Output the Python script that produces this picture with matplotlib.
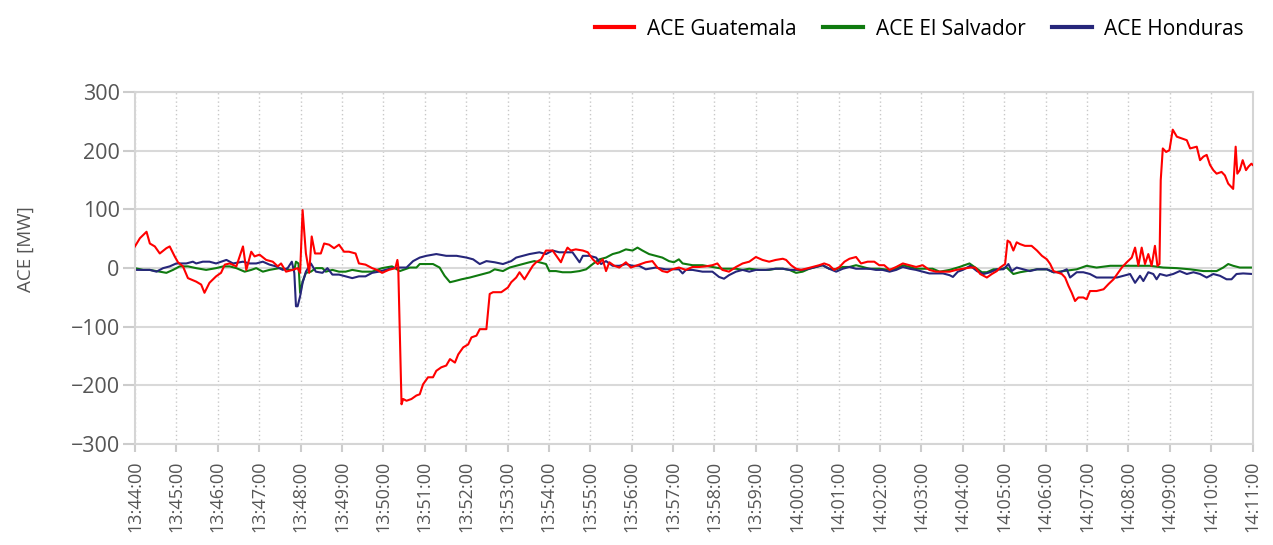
import matplotlib
matplotlib.use("Agg")
import matplotlib.pyplot as plt

# x values are minutes after 13:44:00
tick_labels = ["13:44:00", "13:45:00", "13:46:00", "13:47:00", "13:48:00", "13:49:00",
               "13:50:00", "13:51:00", "13:52:00", "13:53:00", "13:54:00", "13:55:00",
               "13:56:00", "13:57:00", "13:58:00", "13:59:00", "14:00:00", "14:01:00",
               "14:02:00", "14:03:00", "14:04:00", "14:05:00", "14:06:00", "14:07:00",
               "14:08:00", "14:09:00", "14:10:00", "14:11:00"]

gt_t = [0, 0.12, 0.28, 0.36, 0.48, 0.6, 0.76, 0.84, 0.96, 1.04, 1.16, 1.28, 1.48, 1.6, 1.68,
        1.8, 1.96, 2.08, 2.17, 2.29, 2.45, 2.61, 2.69, 2.81, 2.89, 3.01, 3.17, 3.33, 3.45,
        3.53, 3.65, 3.81, 3.93, 3.99, 4.05, 4.13, 4.21, 4.27, 4.35, 4.49, 4.57, 4.69, 4.81,
        4.93, 5.05, 5.17, 5.33, 5.41, 5.57, 5.73, 5.85, 5.97, 6.13, 6.29, 6.34, 6.36, 6.44,
        6.48, 6.56, 6.68, 6.80, 6.88, 6.96, 7.08, 7.20, 7.28, 7.40, 7.52, 7.61, 7.73, 7.81,
        7.93, 8.05, 8.13, 8.25, 8.33, 8.49, 8.57, 8.65, 8.85, 9.01, 9.09, 9.21, 9.29, 9.41,
        9.53, 9.61, 9.69, 9.81, 9.93, 10.09, 10.21, 10.29, 10.37, 10.45, 10.53, 10.65, 10.82,
        10.94, 11.06, 11.18, 11.30, 11.38, 11.46, 11.58, 11.70, 11.86, 11.98, 12.10, 12.22,
        12.34, 12.50, 12.62, 12.74, 12.86, 12.98, 13.14, 13.31, 13.47, 13.63, 13.79, 13.95,
        14.07, 14.19, 14.35, 14.52, 14.68, 14.84, 15.0, 15.16, 15.32, 15.48, 15.65, 15.73,
        15.85, 15.97, 16.09, 16.21, 16.37, 16.53, 16.65, 16.77, 16.89, 17.02, 17.14, 17.26,
        17.42, 17.54, 17.70, 17.86, 17.98, 18.10, 18.23, 18.39, 18.55, 18.71, 18.87, 19.03,
        19.19, 19.35, 19.52, 19.68, 19.84, 20.0, 20.18, 20.30, 20.42, 20.58, 20.70, 20.82,
        20.90, 21.02, 21.08, 21.14, 21.22, 21.30, 21.38, 21.50, 21.66, 21.79, 21.91, 22.03,
        22.11, 22.19, 22.27, 22.39, 22.47, 22.55, 22.63, 22.71, 22.79, 22.91, 22.99, 23.07,
        23.23, 23.40, 23.52, 23.64, 23.76, 23.84, 23.96, 24.08, 24.16, 24.24, 24.32, 24.40,
        24.48, 24.56, 24.64, 24.70, 24.75, 24.78, 24.83, 24.91, 24.99, 25.07, 25.17, 25.29,
        25.41, 25.49, 25.65, 25.73, 25.81, 25.89, 25.97, 26.05, 26.13, 26.25, 26.33, 26.41,
        26.49, 26.53, 26.59, 26.63, 26.69, 26.76, 26.84, 26.90, 26.97, 27.0]
gt_v = [37, 51, 62, 42, 37, 25, 34, 37, 20, 10, 3, -17, -23, -28, -42,
        -25, -14, -8, 6, 8, 3, 37, -3, 28, 20, 23, 14, 11, 3,
        8, -6, -3, 0, -8, 99, 25, -8, 54, 25, 25, 42, 40, 34,
        40, 28, 28, 25, 8, 6, 0, -3, -8, -3, 0, 14, 3, -232,
        -223, -226, -223, -217, -215, -198, -186, -186, -175, -169, -166, -155, -161, -147,
        -135, -130, -118, -115, -104, -104, -44, -41, -41, -33, -24, -16, -7, -19,
        -5, 4, 10, 15, 30, 30, 18, 10, 24, 35, 30, 32, 30,
        27, 15, 7, 15, -5, 10, 4, 1, 10, 1, 4, 7,
        10, 12, 1, -5, -7, -2, 1, -3, 2, 2, 3, 5,
        8, -3, -6, 2, 8, 11, 19, 14, 11, 14, 16, 14,
        5, -1, -3, -1, 2, 5, 8, 5, -3, 2, 11, 16,
        19, 8, 11, 11, 5, 5, -3, 2, 8, 5, 2, 5,
        -3, -6, -6, -6, -3, -1, 1, 1, -10, -16, -10, -5,
        1, 7, 47, 44, 30, 44, 41, 38, 38, 30, 21, 15,
        7, -5, -7, -10, -16, -30, -42, -56, -50, -50, -53, -39,
        -39, -36, -27, -19, -7, 1, 10, 18, 35, 4, 35, 7,
        24, 4, 38, 4, 7, 150, 204, 198, 201, 236, 224, 221,
        218, 204, 207, 184, 190, 193, 176, 167, 161, 164, 158, 144,
        138, 135, 207, 161, 167, 184, 167, 173, 178, 176]

sv_t = [0, 0.2, 0.36, 0.6, 0.76, 0.92, 1.08, 1.28, 1.48, 1.72, 1.96, 2.13, 2.29, 2.45, 2.65,
        2.81, 2.93, 3.09, 3.25, 3.49, 3.73, 3.85, 3.89, 3.95, 3.99, 4.05, 4.13, 4.25, 4.37,
        4.53, 4.61, 4.77, 4.93, 5.09, 5.25, 5.49, 5.73, 5.97, 6.21, 6.40, 6.64, 6.80, 6.88,
        7.04, 7.20, 7.36, 7.48, 7.61, 7.73, 7.89, 8.09, 8.25, 8.41, 8.57, 8.69, 8.89, 9.05,
        9.21, 9.37, 9.53, 9.65, 9.77, 9.93, 10.01, 10.17, 10.33, 10.53, 10.74, 10.90, 11.06,
        11.22, 11.38, 11.54, 11.70, 11.86, 12.02, 12.14, 12.26, 12.42, 12.58, 12.74, 12.90,
        13.02, 13.14, 13.23, 13.47, 13.71, 13.95, 14.19, 14.52, 14.68, 14.84, 15.08, 15.32,
        15.48, 15.65, 15.81, 15.97, 16.13, 16.29, 16.45, 16.61, 16.77, 16.94, 17.10, 17.26,
        17.42, 17.58, 17.74, 17.98, 18.23, 18.39, 18.55, 18.71, 18.87, 19.27, 19.44, 19.68,
        19.92, 20.16, 20.30, 20.46, 20.58, 20.74, 20.90, 21.06, 21.22, 21.38, 21.54, 21.79,
        22.03, 22.19, 22.43, 22.75, 22.99, 23.23, 23.56, 23.88, 24.20, 24.52, 24.84, 25.17,
        25.49, 25.81, 26.13, 26.29, 26.41, 26.53, 26.69, 27.0]
sv_v = [0, -3, -3, -6, -8, -3, 3, 3, 0, -3, 0, 3, 3, 0, -6,
        -3, 0, -6, -3, 0, -3, -3, 11, 8, -42, -23, -8, -6, 0,
        0, -6, -3, -6, -6, -3, -6, -6, 0, 3, -5, 1, 1, 7,
        7, 7, 1, -13, -24, -22, -19, -16, -13, -10, -7, -2, -5, 1,
        4, 7, 10, 12, 10, 7, -5, -5, -7, -7, -5, -2, 7,
        15, 18, 24, 27, 32, 30, 35, 30, 24, 21, 18, 12,
        10, 15, 8, 5, 5, 2, -1, -1, -3, -1, -3, -3,
        -1, -1, -3, -8, -6, -1, 2, 5, -1, -2, 2, 2,
        5, 2, -1, -1, -3, -1, 5, 2, -1, -1, -6, -3,
        2, 8, 1, -7, -7, -2, -2, 1, -10, -7, -5, -2,
        -2, -7, -5, -2, 4, 1, 4, 4, 4, 4, 1, 0,
        -2, -5, -5, 1, 7, 4, 1, 1]

hn_t = [0, 0.2, 0.36, 0.52, 0.68, 0.84, 1.0, 1.24, 1.40, 1.48, 1.64, 1.80, 1.96, 2.21, 2.37,
        2.61, 2.77, 2.93, 3.09, 3.25, 3.41, 3.57, 3.69, 3.79, 3.85, 3.89, 3.93, 3.99, 4.05,
        4.13, 4.25, 4.37, 4.53, 4.65, 4.77, 4.93, 5.09, 5.25, 5.41, 5.57, 5.73, 5.89, 6.05,
        6.21, 6.40, 6.56, 6.72, 6.88, 7.04, 7.28, 7.52, 7.77, 8.01, 8.17, 8.33, 8.49, 8.69,
        8.89, 9.09, 9.21, 9.37, 9.53, 9.77, 9.93, 10.09, 10.25, 10.41, 10.57, 10.74, 10.82,
        10.98, 11.14, 11.26, 11.38, 11.54, 11.70, 11.86, 12.02, 12.18, 12.34, 12.58, 12.82,
        13.14, 13.23, 13.31, 13.47, 13.71, 13.95, 14.11, 14.23, 14.35, 14.52, 14.68, 14.84,
        15.0, 15.24, 15.48, 15.65, 15.81, 16.13, 16.29, 16.45, 16.61, 16.77, 16.94, 17.10,
        17.26, 17.42, 17.74, 17.90, 18.06, 18.23, 18.39, 18.55, 18.71, 18.87, 19.03, 19.19,
        19.52, 19.68, 19.76, 19.88, 20.0, 20.18, 20.34, 20.50, 20.66, 20.82, 20.98, 21.10,
        21.18, 21.30, 21.46, 21.62, 21.79, 22.03, 22.19, 22.35, 22.51, 22.59, 22.75, 22.91,
        23.07, 23.23, 23.72, 24.04, 24.16, 24.28, 24.36, 24.48, 24.60, 24.68, 24.76, 24.92,
        25.08, 25.24, 25.41, 25.57, 25.73, 25.89, 26.05, 26.21, 26.37, 26.49, 26.61, 26.77,
        27.0]
hn_v = [-3, -3, -3, -6, 0, 3, 8, 8, 11, 8, 11, 11, 8, 14, 8,
        11, 8, 8, 11, 6, 3, -3, 0, 11, -8, -65, -65, -48, -25,
        -6, 8, -6, -8, 0, -11, -11, -14, -17, -14, -14, -8, -6, -3,
        0, 1, 1, 12, 18, 21, 24, 21, 21, 18, 15, 7, 12, 10,
        7, 12, 18, 21, 24, 27, 24, 30, 27, 27, 27, 10, 21,
        21, 18, 7, 12, 4, 4, 7, 4, 4, -2, 1, -2,
        -2, -9, -3, -3, -6, -6, -15, -18, -12, -6, -3, -6,
        -3, -3, -1, -1, -3, -3, -1, 2, 5, -1, -6, -1,
        2, -1, -1, -3, -3, -6, -3, 2, -1, -3, -6, -9,
        -9, -12, -15, -6, -3, 4, -5, -10, -7, -2, -2, 7,
        -5, 1, -2, -5, -2, -2, -7, -7, -2, -16, -7, -7,
        -10, -16, -16, -10, -25, -13, -22, -7, -10, -19, -10, -13,
        -10, -5, -10, -7, -10, -16, -10, -13, -19, -19, -10, -9,
        -10]

plt.rcParams['font.family'] = ['Open Sans', 'DejaVu Sans']

fig = plt.figure(figsize=(12.73, 5.45), dpi=100)
ax = fig.add_axes([0.106, 0.185, 0.878, 0.646])

ax.plot(gt_t, gt_v, color='#ff0000', lw=1.5, label='ACE Guatemala', zorder=3)
ax.plot(sv_t, sv_v, color='#0f7a0f', lw=1.5, label='ACE El Salvador', zorder=2)
ax.plot(hn_t, hn_v, color='#26267a', lw=1.5, label='ACE Honduras', zorder=2)

ax.set_xlim(0, 27)
ax.set_ylim(-300, 300)
ax.set_xticks(range(len(tick_labels)))
ax.set_xticklabels(tick_labels, rotation=90, fontsize=13, color='#555555')
ax.set_yticks(range(-300, 301, 100))
ax.tick_params(axis='y', labelsize=15.5, labelcolor='#555555', length=9,
               color='#cccccc', width=1.5, pad=2)
ax.tick_params(axis='x', length=6, color='#cccccc', width=1.5, pad=6)

ax.grid(axis='y', color='#d9d9d9', lw=1.5, ls='-', zorder=0)
ax.grid(axis='x', color='#c8c8c8', lw=1.0, ls=(0, (1, 2)), zorder=0)
ax.set_axisbelow(True)
for side in ['left', 'bottom', 'top', 'right']:
    ax.spines[side].set_color('#d5d5d5')
    ax.spines[side].set_linewidth(1.5)

ax.set_ylabel('ACE [MW]', fontsize=13.5, color='#555555', labelpad=26)
ax.yaxis.set_label_coords(-0.09, 0.555)

fig.legend(loc='upper right', bbox_to_anchor=(0.992, 1.0), ncol=3, frameon=False,
           fontsize=15, handlelength=1.9, handletextpad=0.6, columnspacing=1.3)
for line in fig.legends[0].get_lines():
    line.set_linewidth(3)

fig.savefig('out.png', dpi=100)
